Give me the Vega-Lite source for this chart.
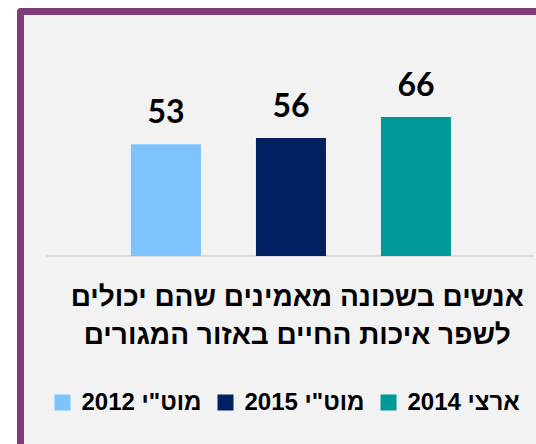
{
  "$schema": "https://vega.github.io/schema/vega-lite/v6.json",
  "width": 515.5,
  "height": 432.5,
  "autosize": {"type": "none"},
  "padding": {"left": 20.5, "top": 11.5, "right": 0, "bottom": 0},
  "background": "white",
  "title": {
    "text": ["אנשים בשכונה מאמינים שהם יכולים", "לשפר איכות החיים באזור המגורים"],
    "orient": "bottom",
    "anchor": "middle",
    "offset": -160,
    "dx": 19,
    "font": "Liberation Sans",
    "fontSize": 28,
    "fontWeight": "bold",
    "color": "black",
    "lineHeight": 37.5,
    "baseline": "top"
  },
  "data": {
    "values": [
      {"series": "2012 מוט\"י", "value": 53},
      {"series": "2015 מוט\"י", "value": 56},
      {"series": "2014 ארצי", "value": 66}
    ]
  },
  "layer": [
    {
      "mark": {"type": "rule", "color": "#d9d9d9", "strokeWidth": 2},
      "encoding": {
        "x": {"datum": "2012 מוט\"י", "type": "nominal", "bandPosition": -1.204, "axis": null,
              "scale": {"domain": ["2012 מוט\"י", "2015 מוט\"י", "2014 ארצי"], "paddingInner": 0.44, "paddingOuter": 0.782, "align": 0.565}},
        "x2": {"datum": "2014 ארצי", "bandPosition": 2.172},
        "y": {"datum": 0, "type": "quantitative", "axis": null,
              "scale": {"domain": [-89.3, 116.1], "nice": false, "zero": false}}
      }
    },
    {
      "mark": {"type": "bar"},
      "encoding": {
        "x": {"field": "series", "type": "nominal", "sort": null, "axis": null,
              "scale": {"domain": ["2012 מוט\"י", "2015 מוט\"י", "2014 ארצי"], "paddingInner": 0.44, "paddingOuter": 0.782, "align": 0.565}},
        "y": {"field": "value", "type": "quantitative", "axis": null,
              "scale": {"domain": [-89.3, 116.1], "nice": false, "zero": false}},
        "color": {
          "field": "series", "type": "nominal", "sort": null,
          "scale": {"domain": ["2012 מוט\"י", "2015 מוט\"י", "2014 ארצי"], "range": ["#7dc4fe", "#002060", "#009999"]},
          "legend": {"title": null}
        }
      }
    },
    {
      "mark": {"type": "text", "font": "Lato", "fontSize": 32, "fontWeight": "bold", "baseline": "alphabetic", "dy": -21, "color": "black"},
      "encoding": {
        "x": {"field": "series", "type": "nominal", "sort": null},
        "y": {"field": "value", "type": "quantitative"},
        "text": {"field": "value", "type": "quantitative"}
      }
    }
  ],
  "config": {
    "view": {"fill": "#f2f2f2", "stroke": "#803d78", "strokeWidth": 7, "strokeDash": [515.5, 948, 432.5, 0], "strokeCap": "round"},
    "legend": {
      "orient": "bottom-left", "offset": 30, "direction": "horizontal",
      "symbolType": "square", "symbolSize": 256, "symbolStrokeWidth": 0, "symbolOpacity": 1,
      "labelFont": "Liberation Sans", "labelFontSize": 24, "labelFontWeight": "bold", "labelColor": "black",
      "labelOffset": 7, "columnPadding": 12, "padding": 0, "labelLimit": 300
    }
  }
}
